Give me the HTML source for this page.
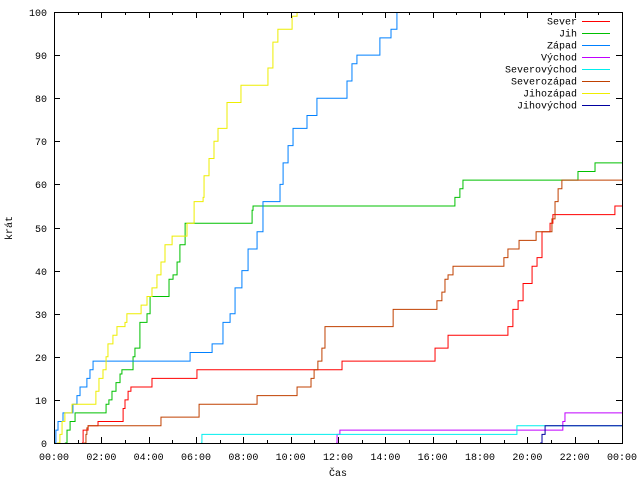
<!DOCTYPE html>
<html><head><meta charset="utf-8"><style>
html,body{margin:0;padding:0;background:#fff}
svg{display:block}
text{font-family:"Liberation Mono","DejaVu Sans Mono",monospace;font-size:10px;fill:#000}
</style></head><body>
<svg id="chart" width="640" height="480">
<rect x="0" y="0" width="640" height="480" fill="#fff"/>
<g id="series"></g>
<g id="axes"></g>
<g id="legend"></g>
<text x="12" y="228" text-anchor="middle" transform="rotate(-90 12 228)">krát</text>
<text x="338" y="476" text-anchor="middle">Čas</text>
</svg>
<script>
const seriesNames=["Sever","Jih","Západ","Východ","Severovýchod","Severozápad","Jihozápad","Jihovýchod"];
const seriesColors=["#ff0000","#00c000","#0080ff","#c000ff","#00eeee","#c04000","#eeee00","#0000a0"];
const xTickLabels=["00:00","02:00","04:00","06:00","08:00","10:00","12:00","14:00","16:00","18:00","20:00","22:00","00:00"];
const yTickLabels=["0","10","20","30","40","50","60","70","80","90","100"];
const severT=[1.18,1.23,1.44,1.82,1.86,2.87,2.92,3.0,3.13,3.25,4.06,4.14,6.0,6.04,12.13,12.17,16.01,16.1,16.61,16.65,19.14,19.18,19.39,19.61,19.82,20.03,20.2,20.41,20.62,20.96,21.08,23.62,23.7];
const severV=[0,3,4,4,5,5,8,10,12,13,13,15,15,17,17,19,19,22,22,25,25,27,31,33,37,37,41,43,49,51,53,53,55];
const jihT=[0.46,0.55,0.68,0.89,2.03,2.2,2.32,2.45,2.62,2.79,2.87,3.21,3.34,3.42,3.63,3.93,4.06,4.73,4.86,5.03,5.2,5.32,5.54,8.28,8.37,8.41,16.86,16.94,17.15,17.28,22.14,22.86];
const jihV=[0,3,5,7,7,9,10,12,14,16,17,17,20,22,28,30,34,34,38,39,42,46,51,51,54,55,55,57,59,61,63,65];
const zapadT=[0.04,0.08,0.17,0.38,0.76,0.8,0.97,1.1,1.39,1.52,1.65,5.66,5.75,6.59,6.68,7.14,7.44,7.65,7.94,8.2,8.41,8.58,8.83,9.38,9.55,9.68,9.89,10.1,10.52,10.69,11.11,12.25,12.38,12.59,12.8,13.65,13.77,14.24,14.41,14.49];
const zapadV=[0,3,5,7,7,9,11,13,15,17,19,19,21,21,23,28,30,36,40,45,45,49,56,56,60,65,69,73,73,76,80,80,84,88,90,90,94,96,96,100];
const vychodT=[11.92,11.96,12.08,21.42,21.5,21.59];
const vychodV=[0,2,3,3,5,7];
const svT=[6.21,6.25,19.44,19.56];
const svV=[0,2,2,4];
const szT=[1.27,1.35,1.39,1.44,4.44,4.52,6.08,6.13,8.54,8.58,10.23,10.27,10.77,10.86,10.99,11.15,11.32,11.45,14.28,14.33,16.1,16.18,16.39,16.52,16.65,16.86,18.97,19.01,19.18,19.61,19.65,20.28,20.37,20.87,21.04,21.17,21.3,21.46];
const szV=[0,2,3.5,4,4,6,6,9,9,11,11,13,13,15,17,19,22,27,27,31,31,33,35,38,39,41,41,43,45,45,47,47,49,49,52,56,59,61];
const jzT=[0.13,0.25,0.34,0.46,0.76,1.65,1.77,1.9,2.07,2.2,2.28,2.49,2.66,3.0,3.08,3.68,3.93,4.14,4.35,4.52,4.69,4.99,5.58,5.62,5.92,6.3,6.34,6.55,6.76,6.93,7.18,7.31,7.69,7.9,8.92,9.04,9.25,9.46,9.93,10.06,10.27];
const jzV=[0,2,5,7,9,9,12,15,17,20,23,25,27,28,30,32,34,36,39,42,46,48,48,51,56,57,62,66,70,73,73,79,79,83,83,87,93,96,96,99,100];
const jvT=[20.54,20.62,20.75];
const jvV=[0,2,4];
const allT=[severT,jihT,zapadT,vychodT,svT,szT,jzT,jvT];
const allV=[severV,jihV,zapadV,vychodV,svV,szV,jzV,jvV];

const L=54,R=622,T=12,B=443,XMAX=24,YMAX=100;
const xs=h=>L+(R-L)*Math.min(h,XMAX)/XMAX;
const ys=v=>B-(B-T)*Math.min(v,YMAX)/YMAX;
const NS="http://www.w3.org/2000/svg";
const sg=document.getElementById('series'),ag=document.getElementById('axes'),lg=document.getElementById('legend');

allT.forEach((ts,i)=>{
  const vs=allV[i];
  let d="M"+xs(ts[0])+","+ys(vs[0]);
  for(let k=1;k<ts.length;k++){d+=" H"+xs(ts[k])+" V"+ys(vs[k]);}
  if(vs[vs.length-1]<YMAX) d+=" H"+xs(XMAX);
  const p=document.createElementNS(NS,'path');
  p.setAttribute('d',d);p.setAttribute('fill','none');p.setAttribute('stroke',seriesColors[i]);p.setAttribute('stroke-width','1');
  
  
  sg.appendChild(p);
});

const frame=document.createElementNS(NS,'rect');
frame.setAttribute('x',L+0.5);frame.setAttribute('y',T+0.5);frame.setAttribute('width',R-L);frame.setAttribute('height',B-T);
frame.setAttribute('fill','none');frame.setAttribute('stroke','#000');


ag.appendChild(frame);
function line(x1,y1,x2,y2,name){
  const l=document.createElementNS(NS,'line');
  l.setAttribute('x1',x1);l.setAttribute('y1',y1);l.setAttribute('x2',x2);l.setAttribute('y2',y2);l.setAttribute('stroke','#000');
  
  
  ag.appendChild(l);
}
function txt(x,y,s,anchor,name,parent){
  const t=document.createElementNS(NS,'text');
  t.setAttribute('x',x);t.setAttribute('y',y);t.setAttribute('text-anchor',anchor);t.textContent=s;
  
  
  parent.appendChild(t);
}
yTickLabels.forEach((lab,i)=>{
  const v=i*YMAX/(yTickLabels.length-1);const y=Math.round(ys(v))+0.5;
  line(L,y,L+6,y,'y-tick');line(R-6,y,R,y,'y-tick-right');
  txt(47,y+3.5,lab,'end','y-tick-label',ag);
});
for(let h=0;h<=XMAX;h++){
  const x=Math.round(xs(h))+0.5;const len=h%2===0?6:3;
  line(x,B,x,B-len,'x-tick');line(x,T,x,T+len,'x-tick-top');
}
xTickLabels.forEach((lab,i)=>{
  const x=xs(i*2);txt(x,460,lab,'middle','x-tick-label',ag);
});
seriesNames.forEach((n,i)=>{
  const y=21+i*12;
  txt(577,y+3.5,n,'end','legend-label-'+n.toLowerCase(),lg);
  const l=document.createElementNS(NS,'line');
  l.setAttribute('x1',582);l.setAttribute('x2',610);l.setAttribute('y1',y+0.5);l.setAttribute('y2',y+0.5);l.setAttribute('stroke',seriesColors[i]);
  
  
  lg.appendChild(l);
});
</script>
</body></html>
